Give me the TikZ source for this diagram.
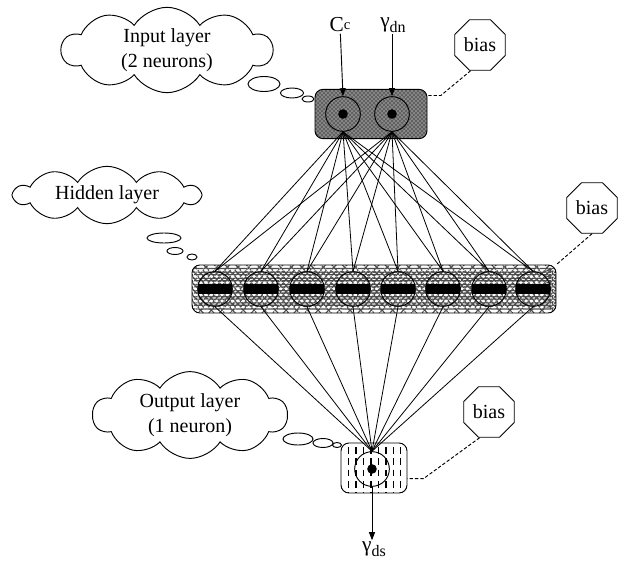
\documentclass[tikz,border=0pt]{standalone}
\usepackage{fontspec}
\setmainfont{Liberation Serif}
\usetikzlibrary{shapes.geometric,shapes.symbols,arrows.meta,patterns,decorations.pathmorphing}

\begin{document}
\begin{tikzpicture}[
  x=0.75pt, y=-0.75pt,
  layerbox/.style={
    rectangle, rounded corners=6pt, draw, line width=0.7pt, inner sep=0pt
  },
  inlayer/.style={layerbox, preaction={fill=black!62},
    pattern=crosshatch dots, pattern color=white},
  hidlayer/.style={layerbox, fill=white, path picture={
      \foreach \k in {1,...,7}
        \draw[black!70, line width=0.8pt, dash pattern=on 1.1pt off 0.9pt,
          decorate, decoration={snake, amplitude=1.4pt, segment length=8pt}]
          ([yshift=-\k*4.6pt+0.6pt]path picture bounding box.north west) --
          ([yshift=-\k*4.6pt+0.6pt]path picture bounding box.north east);
    }},
  outlayer/.style={layerbox, fill=white, path picture={
      \foreach \k in {1,...,8}
        \draw[line width=1.1pt, dash pattern=on 5pt off 3.5pt]
          ([xshift=\k*5.6pt, yshift=-3pt]path picture bounding box.north west) --
          ([xshift=\k*5.6pt]path picture bounding box.south west);
    }},
  neuron/.style={circle, draw, line width=0.7pt, minimum size=26pt, inner sep=0pt},
  indot/.style={neuron, path picture={
      \fill (path picture bounding box.center) circle (3.6pt);}},
  hidbar/.style={neuron, path picture={
      \fill ([yshift=-4pt]path picture bounding box.west) rectangle
            ([yshift=4pt]path picture bounding box.east);}},
  biasnode/.style={regular polygon, regular polygon sides=8, draw, line width=0.7pt,
    minimum size=41pt, inner sep=0pt, font=\fontsize{15}{17}\selectfont},
  thought/.style={cloud, draw, line width=0.7pt, cloud puffs=10,
    cloud puff arc=115, cloud ignores aspect, align=center, inner sep=1pt,
    fill=white, font=\fontsize{15}{19}\selectfont},
  bubble/.style={draw, line width=0.7pt, fill=white},
  link/.style={line width=0.6pt},
  biaslink/.style={line width=0.7pt, dash pattern=on 2.5pt off 1.5pt},
  feed/.style={line width=0.7pt, -{Triangle[length=6pt,width=4.5pt]}},
  sig/.style={font=\fontsize{16}{18}\selectfont, inner sep=1pt}
]
\useasboundingbox (0,0) rectangle (631,563);

% --- layer boxes ---
\node[inlayer, minimum width=84pt, minimum height=37pt] (inbox) at (371,114) {};
\node[hidlayer, minimum width=273pt, minimum height=36pt] (hidbox) at (374,289) {};
\node[outlayer, minimum width=49.5pt, minimum height=37.5pt] (outbox) at (374,468) {};

% --- neurons ---
\node[indot] (in1) at (343,114) {};
\node[indot] (in2) at (392,114) {};
\foreach \i/\x in {1/215, 2/261, 3/307, 4/353, 5/398, 6/443, 7/489, 8/533}
  \node[hidbar] (h\i) at (\x,289) {};
\node[indot] (out) at (372,469) {};

% --- connections ---
\foreach \i in {1,2}
  \foreach \j in {1,...,8}
    \draw[link] (in\i.south) -- (h\j.north);
\foreach \j in {1,...,8}
  \draw[link] (h\j.south) -- (out.north);

% --- inputs and output ---
\node[sig] (cc) at (340,25) {C\raisebox{0.25ex}{\fontsize{11}{11}\selectfont c}};
\node[sig] (gdn) at (393,25) {γ\raisebox{-0.45ex}{\fontsize{12}{12}\selectfont dn}};
\node[sig] (gds) at (374,549) {γ\raisebox{-0.45ex}{\fontsize{12}{12}\selectfont ds}};
\draw[feed] (cc) -- (in1.north);
\draw[feed] (gdn.south -| in2) -- (in2.north);
\draw[feed] (out.south) -- (gds.north -| out);

% --- bias units ---
\node[biasnode] (bias1) at (480,45) {bias};
\node[biasnode] (bias2) at (592,208) {bias};
\node[biasnode] (bias3) at (489,412) {bias};
\draw[biaslink] (bias1.250) -- ([xshift=10pt, yshift=-5pt]inbox.north east)
  -- ([yshift=-5pt]inbox.north east);
\draw[biaslink] (bias2.south) -- (hidbox.north east);
\draw[biaslink] (bias3.250) -- ([xshift=12pt, yshift=-8pt]outbox.east)
  -- ([yshift=-8pt]outbox.east);

% --- thought clouds and their bubbles ---
\draw[bubble] (308,99) ellipse [x radius=6, y radius=3];
\draw[bubble] (292,93) ellipse [x radius=11.5, y radius=5];
\draw[bubble] (264,84) ellipse [x radius=16, y radius=7.5];
\node[thought, minimum width=158pt, minimum height=64pt] (incloud) at (167,50)
  {Input layer\\(2 neurons)};

\draw[bubble] (192,257) ellipse [x radius=5, y radius=3];
\draw[bubble] (175,251) ellipse [x radius=8, y radius=3.5];
\draw[bubble] (164,238) ellipse [x radius=17, y radius=5];
\node[thought, minimum width=139pt, minimum height=43pt] (hidcloud) at (107,195)
  {Hidden layer};

\draw[bubble] (337,445) ellipse [x radius=4.5, y radius=2.5];
\draw[bubble] (323,443) ellipse [x radius=10, y radius=4.5];
\draw[bubble] (298,439) ellipse [x radius=15, y radius=6];
\node[thought, minimum width=146pt, minimum height=60pt] (outcloud) at (190,415)
  {Output layer\\(1 neuron)};

\end{tikzpicture}
\end{document}
